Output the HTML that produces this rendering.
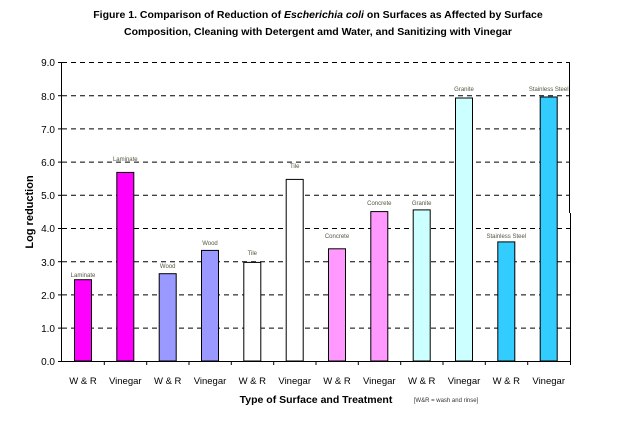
<!DOCTYPE html>
<html><head><style>
body{margin:0;background:#fff;}
svg text{font-family:"Liberation Sans",Arial,sans-serif;}
</style></head><body>
<svg width="636" height="420" xmlns="http://www.w3.org/2000/svg">
<text x="318" y="18" text-anchor="middle" font-size="10.5" font-weight="bold">Figure 1.  Comparison of Reduction of <tspan font-style="italic">Escherichia coli</tspan> on Surfaces as Affected by Surface</text>
<text x="318" y="35" text-anchor="middle" font-size="10.5" font-weight="bold">Composition, Cleaning with Detergent amd Water, and Sanitizing with Vinegar</text>
<g stroke="#000" stroke-width="1" stroke-dasharray="5,4">
<line x1="62" x2="570" y1="62.5" y2="62.5"/>
<line x1="62" x2="570" y1="95.7" y2="95.7"/>
<line x1="62" x2="570" y1="128.9" y2="128.9"/>
<line x1="62" x2="570" y1="162.1" y2="162.1"/>
<line x1="62" x2="570" y1="195.3" y2="195.3"/>
<line x1="62" x2="570" y1="228.5" y2="228.5"/>
<line x1="62" x2="570" y1="261.7" y2="261.7"/>
<line x1="62" x2="570" y1="294.9" y2="294.9"/>
<line x1="62" x2="570" y1="328.1" y2="328.1"/>
</g>
<line x1="569.5" y1="62" x2="569.5" y2="213" stroke="#000"/>
<line x1="570.5" y1="213" x2="570.5" y2="365" stroke="#000"/>
<line x1="61.5" y1="62" x2="61.5" y2="361" stroke="#000"/>
<line x1="58" y1="361.5" x2="570" y2="361.5" stroke="#000"/>
<g stroke="#000">
<line x1="104.3" x2="104.3" y1="361" y2="365"/><line x1="146.7" x2="146.7" y1="361" y2="365"/><line x1="189" x2="189" y1="361" y2="365"/><line x1="231.3" x2="231.3" y1="361" y2="365"/><line x1="273.7" x2="273.7" y1="361" y2="365"/><line x1="316" x2="316" y1="361" y2="365"/><line x1="358.3" x2="358.3" y1="361" y2="365"/><line x1="400.7" x2="400.7" y1="361" y2="365"/><line x1="443" x2="443" y1="361" y2="365"/><line x1="485.3" x2="485.3" y1="361" y2="365"/><line x1="527.7" x2="527.7" y1="361" y2="365"/>
<line x1="58" x2="62" y1="62.5" y2="62.5"/><line x1="58" x2="62" y1="95.7" y2="95.7"/><line x1="58" x2="62" y1="128.9" y2="128.9"/><line x1="58" x2="62" y1="162.1" y2="162.1"/><line x1="58" x2="62" y1="195.3" y2="195.3"/><line x1="58" x2="62" y1="228.5" y2="228.5"/><line x1="58" x2="62" y1="261.7" y2="261.7"/><line x1="58" x2="62" y1="294.9" y2="294.9"/><line x1="58" x2="62" y1="328.1" y2="328.1"/>
</g>
<g font-size="10" text-anchor="end">
<text x="55" y="365">0.0</text><text x="55" y="332">1.0</text><text x="55" y="299">2.0</text><text x="55" y="266">3.0</text><text x="55" y="232">4.0</text><text x="55" y="199">5.0</text><text x="55" y="166">6.0</text><text x="55" y="133">7.0</text><text x="55" y="100">8.0</text><text x="55" y="66">9.0</text>
</g>
<text transform="translate(33,212) rotate(-90)" text-anchor="middle" font-size="11" font-weight="bold">Log reduction</text>
<g stroke="#000" stroke-width="1">
<rect x="74.5" y="279.7" width="17" height="81.3" fill="#FF00FF"/>
<rect x="116.8" y="172.4" width="17" height="188.6" fill="#FF00FF"/>
<rect x="159.2" y="273.7" width="17" height="87.3" fill="#9999FF"/>
<rect x="201.5" y="250.4" width="17" height="110.6" fill="#9999FF"/>
<rect x="243.8" y="262.4" width="17" height="98.6" fill="#FFFFFF"/>
<rect x="286.2" y="179.4" width="17" height="181.6" fill="#FFFFFF"/>
<rect x="328.5" y="248.8" width="17" height="112.2" fill="#FF99FF"/>
<rect x="370.8" y="211.6" width="17" height="149.4" fill="#FF99FF"/>
<rect x="413.2" y="209.9" width="17" height="151.1" fill="#CCFFFF"/>
<rect x="455.5" y="98" width="17" height="263" fill="#CCFFFF"/>
<rect x="497.8" y="241.9" width="17" height="119.1" fill="#33CCFF"/>
<rect x="540.2" y="97" width="17" height="264" fill="#33CCFF"/>
</g>
<g font-size="6" fill="#555540" text-anchor="middle">
<text x="83" y="277">Laminate</text><text x="125.3" y="161">Laminate</text>
<text x="167.7" y="268">Wood</text><text x="210" y="245">Wood</text>
<text x="252.3" y="255">Tile</text><text x="294.7" y="168">Tile</text>
<text x="337" y="238">Concrete</text><text x="379.3" y="205">Concrete</text>
<text x="421.7" y="205">Granite</text><text x="464" y="91">Granite</text>
<text x="506.3" y="238">Stainless Steel</text><text x="548.7" y="91">Stainless Steel</text>
</g>
<g font-size="9.5" text-anchor="middle">
<text x="83" y="384">W &amp; R</text><text x="125.3" y="384">Vinegar</text>
<text x="167.7" y="384">W &amp; R</text><text x="210" y="384">Vinegar</text>
<text x="252.3" y="384">W &amp; R</text><text x="294.7" y="384">Vinegar</text>
<text x="337" y="384">W &amp; R</text><text x="379.3" y="384">Vinegar</text>
<text x="421.7" y="384">W &amp; R</text><text x="464" y="384">Vinegar</text>
<text x="506.3" y="384">W &amp; R</text><text x="548.7" y="384">Vinegar</text>
</g>
<text x="316" y="403" text-anchor="middle" font-size="10.5" font-weight="bold">Type of Surface and Treatment</text>
<text x="446" y="402" text-anchor="middle" font-size="6" fill="#333">[W&amp;R = wash and rinse]</text>
</svg>
</body></html>
